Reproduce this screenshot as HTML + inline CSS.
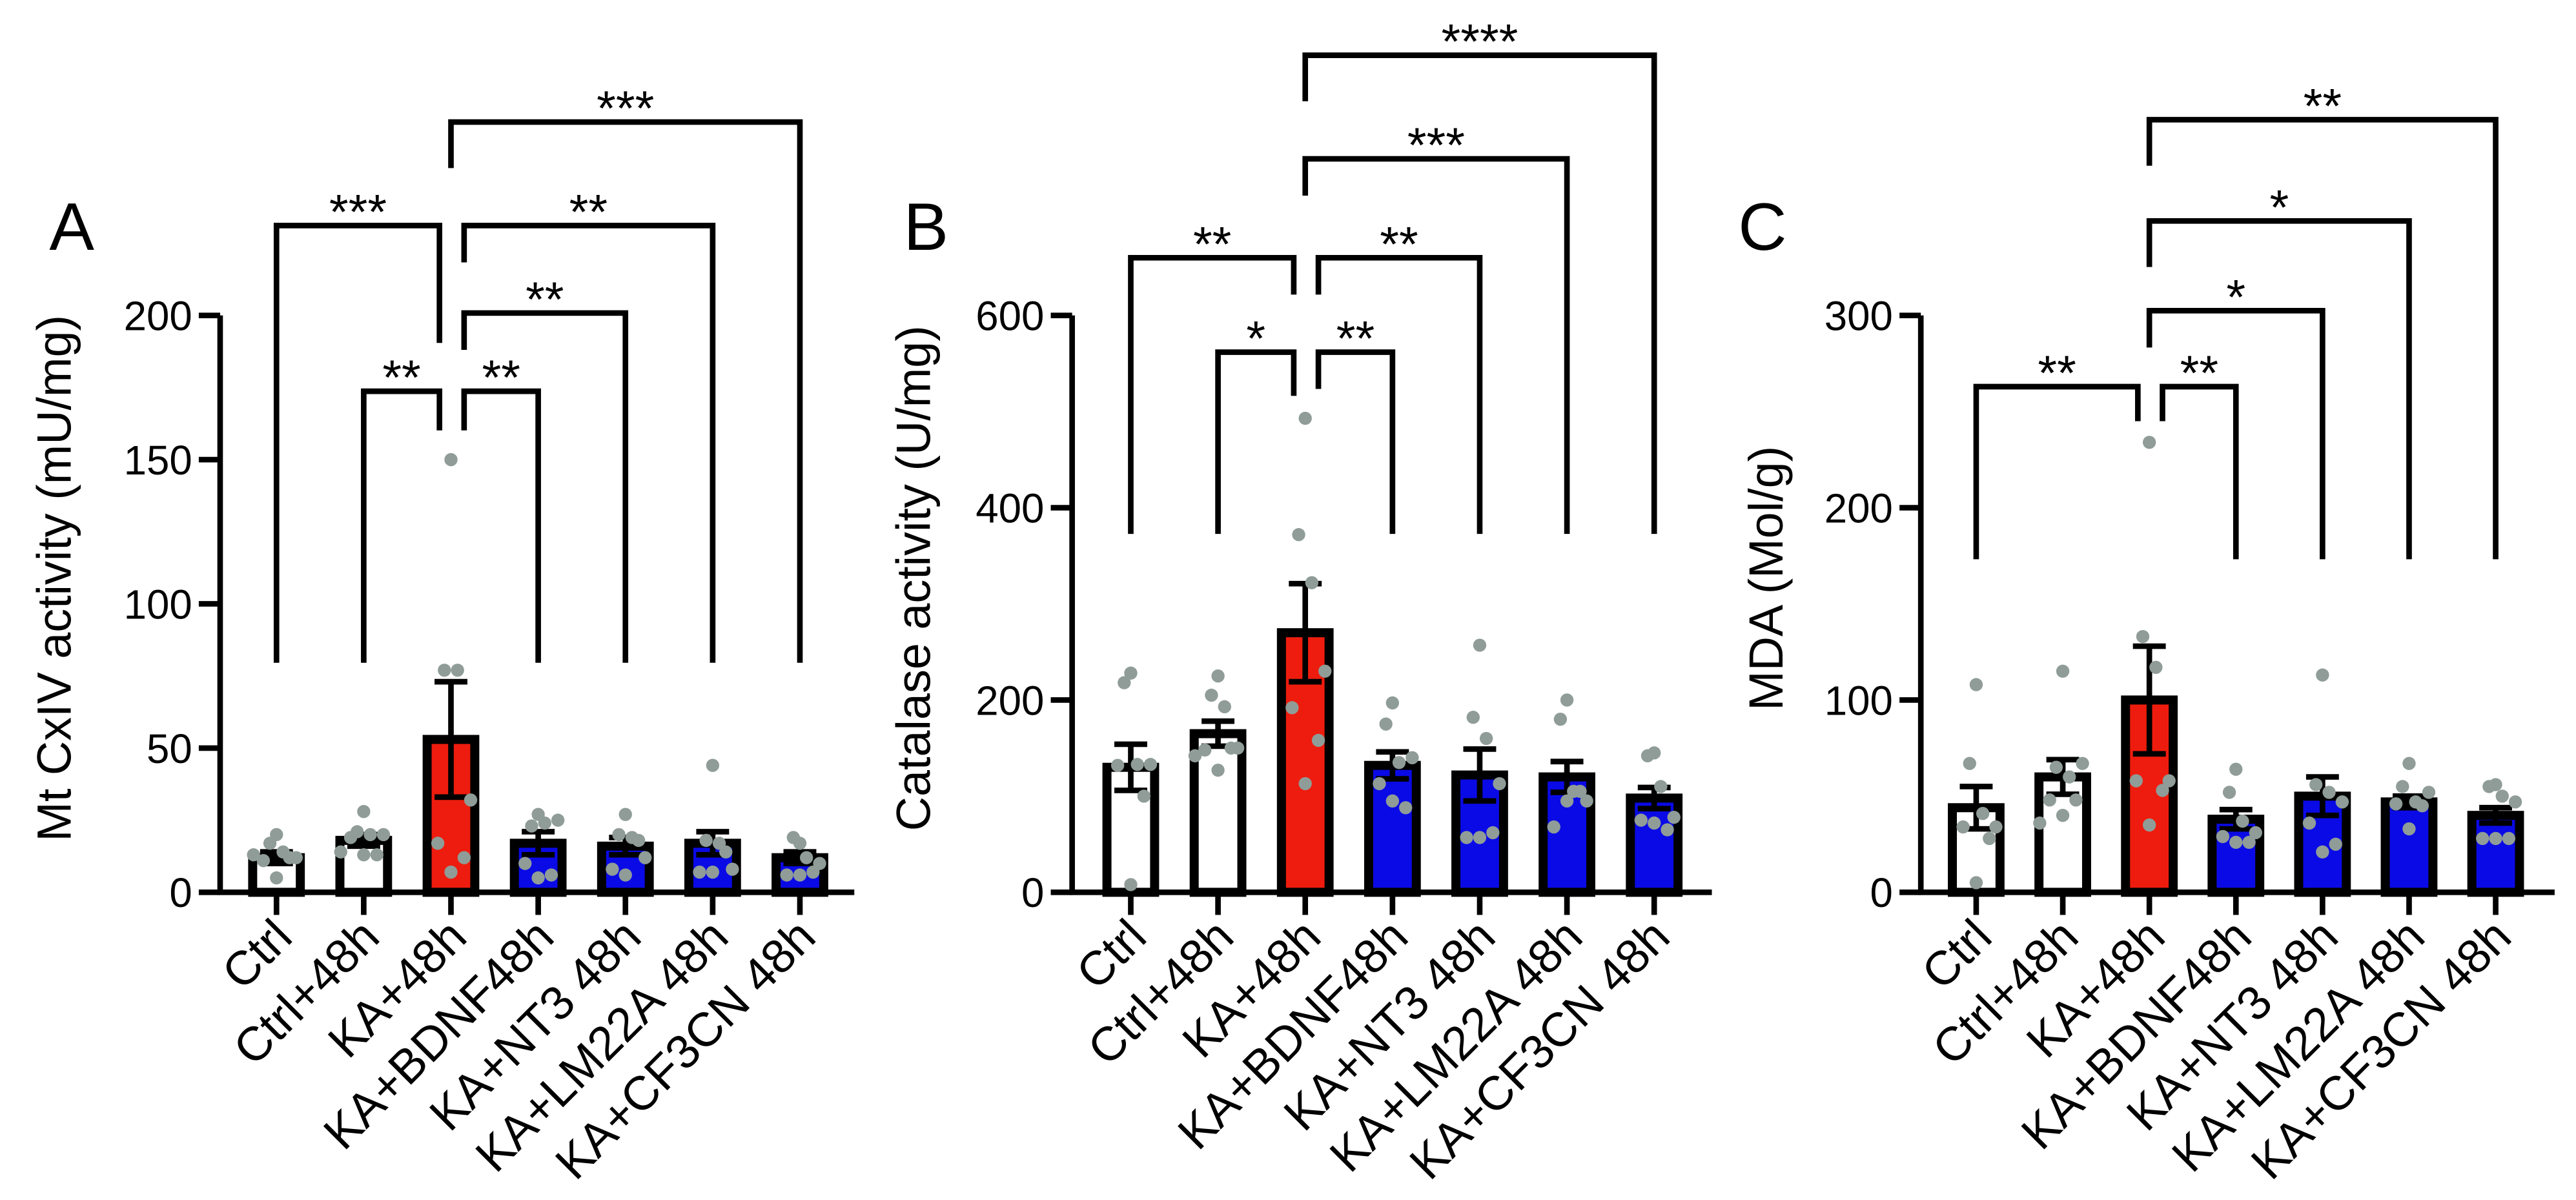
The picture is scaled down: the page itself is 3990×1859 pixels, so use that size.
<!DOCTYPE html>
<html><head><meta charset="utf-8"><style>
html,body{margin:0;padding:0;background:#fff}
svg{display:block}
text{font-family:"Liberation Sans",Arial,sans-serif;fill:#000}
</style></head><body>
<svg id="fig" width="3990" height="1859" viewBox="0 0 1568 730.5" xmlns="http://www.w3.org/2000/svg"></svg>
<script>
const categories = ["Ctrl","Ctrl+48h","KA+48h","KA+BDNF48h","KA+NT3 48h","KA+LM22A 48h","KA+CF3CN 48h"];
const meansA = [12,18,53,17,16,17,12];
const semA = [2,2,20,4,3,4,2];
const pointsA = [[20,17,14,12,11,12,5,13],[28,21,20,20,19,13,13,14],[150,77,77,32,17,12,7],[27,23,24,25,10,6,5],[27,20,19,12,8,18,6],[44,18,17,8,7,14,7],[17,19,12,10,6,7,6]];
const ticksA = [0,50,100,150,200];
const meansB = [130,165,270,132,122,120,98];
const semB = [24,13,51,14,27,16,11];
const pointsB = [[228,218,133,133,132,100,8],[225,205,193,150,148,150,127,142],[493,372,322,230,192,158,113],[197,175,135,140,113,88,95],[257,182,160,113,57,62,57],[200,180,105,95,68,105,95],[145,142,110,78,75,65,72]];
const ticksB = [0,200,400,600];
const meansC = [44,60,100,38,50,47,40];
const semC = [11,9,28,5,10,3,4];
const pointsC = [[108,67,41,34,34,28,5],[115,65,60,67,48,48,40,36],[234,133,117,58,58,53,35],[64,52,37,31,29,26,26],[113,56,52,47,36,25,21],[67,55,47,52,46,45,33],[56,55,50,47,28,28,28]];
const ticksC = [0,100,200,300];
const colors = ["#ffffff","#ffffff","#ee1c0e","#0a0ae6","#0a0ae6","#0a0ae6","#0a0ae6"];

const NS="http://www.w3.org/2000/svg";
const svg=document.getElementById('fig');
function el(tag,attrs,parent){const e=document.createElementNS(NS,tag);for(const k in attrs)e.setAttribute(k,attrs[k]);(parent||svg).appendChild(e);return e;}
const K=1.401;
const panels=[
 {id:"a",letter:"A",lx:30,axisX:134,x0:168.3,step:53.1,xEnd:520,max:200,ticks:ticksA,means:meansA,sem:semA,pts:pointsA,title:"Mt CxIV  activity (mU/mg)",tx:33,
  br:[[0,2,98,288,149,"***",-7],[1,2,170,288,187,"**",-7],[2,3,170,187,288,"**",8],[2,4,136,152,288,"**",8],[2,5,98,114,288,"**",8],[2,6,53,73,288,"***",0]]},
 {id:"b",letter:"B",lx:550,axisX:652.6,x0:688.3,step:53.1,xEnd:1042,max:600,ticks:ticksB,means:meansB,sem:semB,pts:pointsB,title:"Catalase activity (U/mg)",tx:556,
  br:[[0,2,112,232,128,"**",-8],[1,2,153,232,172,"*",-8],[2,3,153,169,232,"**",8],[2,4,112,128,232,"**",8],[2,5,69,85,232,"***",0],[2,6,24,44,232,"****",0]]},
 {id:"c",letter:"C",lx:1058,axisX:1169.2,x0:1202.9,step:52.7,xEnd:1555,max:300,ticks:ticksC,means:meansC,sem:semC,pts:pointsC,title:"MDA (Mol/g)",tx:1075,
  br:[[0,2,168,243,183,"**",-7],[2,3,168,183,243,"**",8],[2,4,135,151,243,"*",0],[2,5,96,116,243,"*",0],[2,6,52,72,243,"**",0]]}
];
const y0=543.2, yTop=192;
const jit=[-12,-4,4,12,-8,8,0,-14];
panels.forEach(p=>{
  const g=el('g',{});
  
  
  const ys=v=>y0-(v/p.max)*(y0-yTop);
  const xs=i=>p.x0+i*p.step;
  const L=el('text',{x:p.lx,y:152,'font-size':41},g);L.textContent=p.letter;
  
  
  const ya=el('line',{x1:p.axisX,y1:yTop,x2:p.axisX,y2:y0+1.5,stroke:'#000','stroke-width':3.4},g);
  
  
  const xa=el('line',{x1:p.axisX-1.5,y1:y0,x2:p.xEnd,y2:y0,stroke:'#000','stroke-width':3.4},g);
  
  
  p.ticks.forEach(t=>{
    el('line',{x1:p.axisX-13,y1:ys(t),x2:p.axisX,y2:ys(t),stroke:'#000','stroke-width':3.4},g);
    const tt=el('text',{x:p.axisX-17,y:ys(t)+9,'font-size':25,'text-anchor':'end'},g);tt.textContent=t;
    
    
  });
  const yt=el('text',{x:0,y:0,'font-size':29,'text-anchor':'middle',transform:`translate(${p.tx+10},${352}) rotate(-90)`},g);yt.textContent=p.title;
  
  
  categories.forEach((c,i)=>{
    const x=xs(i);
    el('line',{x1:x,y1:y0,x2:x,y2:557,stroke:'#000','stroke-width':3.4},g);
    const r=el('rect',{x:x-14.5,y:ys(p.means[i]),width:29,height:y0-ys(p.means[i]),fill:colors[i],stroke:'#000','stroke-width':5.5},g);
    
    
    const m=p.means[i],s=p.sem[i];
    el('line',{x1:x,y1:ys(m-s),x2:x,y2:ys(m+s),stroke:'#000','stroke-width':3.4},g);
    el('line',{x1:x-10,y1:ys(m+s),x2:x+10,y2:ys(m+s),stroke:'#000','stroke-width':3.4},g);
    el('line',{x1:x-10,y1:ys(m-s),x2:x+10,y2:ys(m-s),stroke:'#000','stroke-width':3.4},g);
    p.pts[i].forEach((v,k)=>{
      const d=el('circle',{cx:x+(k===0?0:jit[k%8]),cy:ys(v),r:4,fill:'#8f9c97'},g);
      
      
    });
    const lb=el('text',{x:0,y:0,'font-size':29,'text-anchor':'end',transform:`translate(${x+11},${572}) rotate(-45)`},g);lb.textContent=c;
    
    
  });
  p.br.forEach(b=>{
    const [a,c,top,ya2,yc,st,off]=b;
    let xa2=xs(a),xc=xs(c);
    if(c===2){xc=xc-7;} if(a===2){xa2=xa2+off;}
    const path=el('path',{d:`M${xa2},${ya2*K} V${top*K} H${xc} V${yc*K}`,fill:'none',stroke:'#000','stroke-width':3.4},g);
    
    
    const s=el('text',{x:(xa2+xc)/2,y:top*K+2,'font-size':30,'text-anchor':'middle'},g);s.textContent=st;
    
    
  });
});
</script>
</body></html>
